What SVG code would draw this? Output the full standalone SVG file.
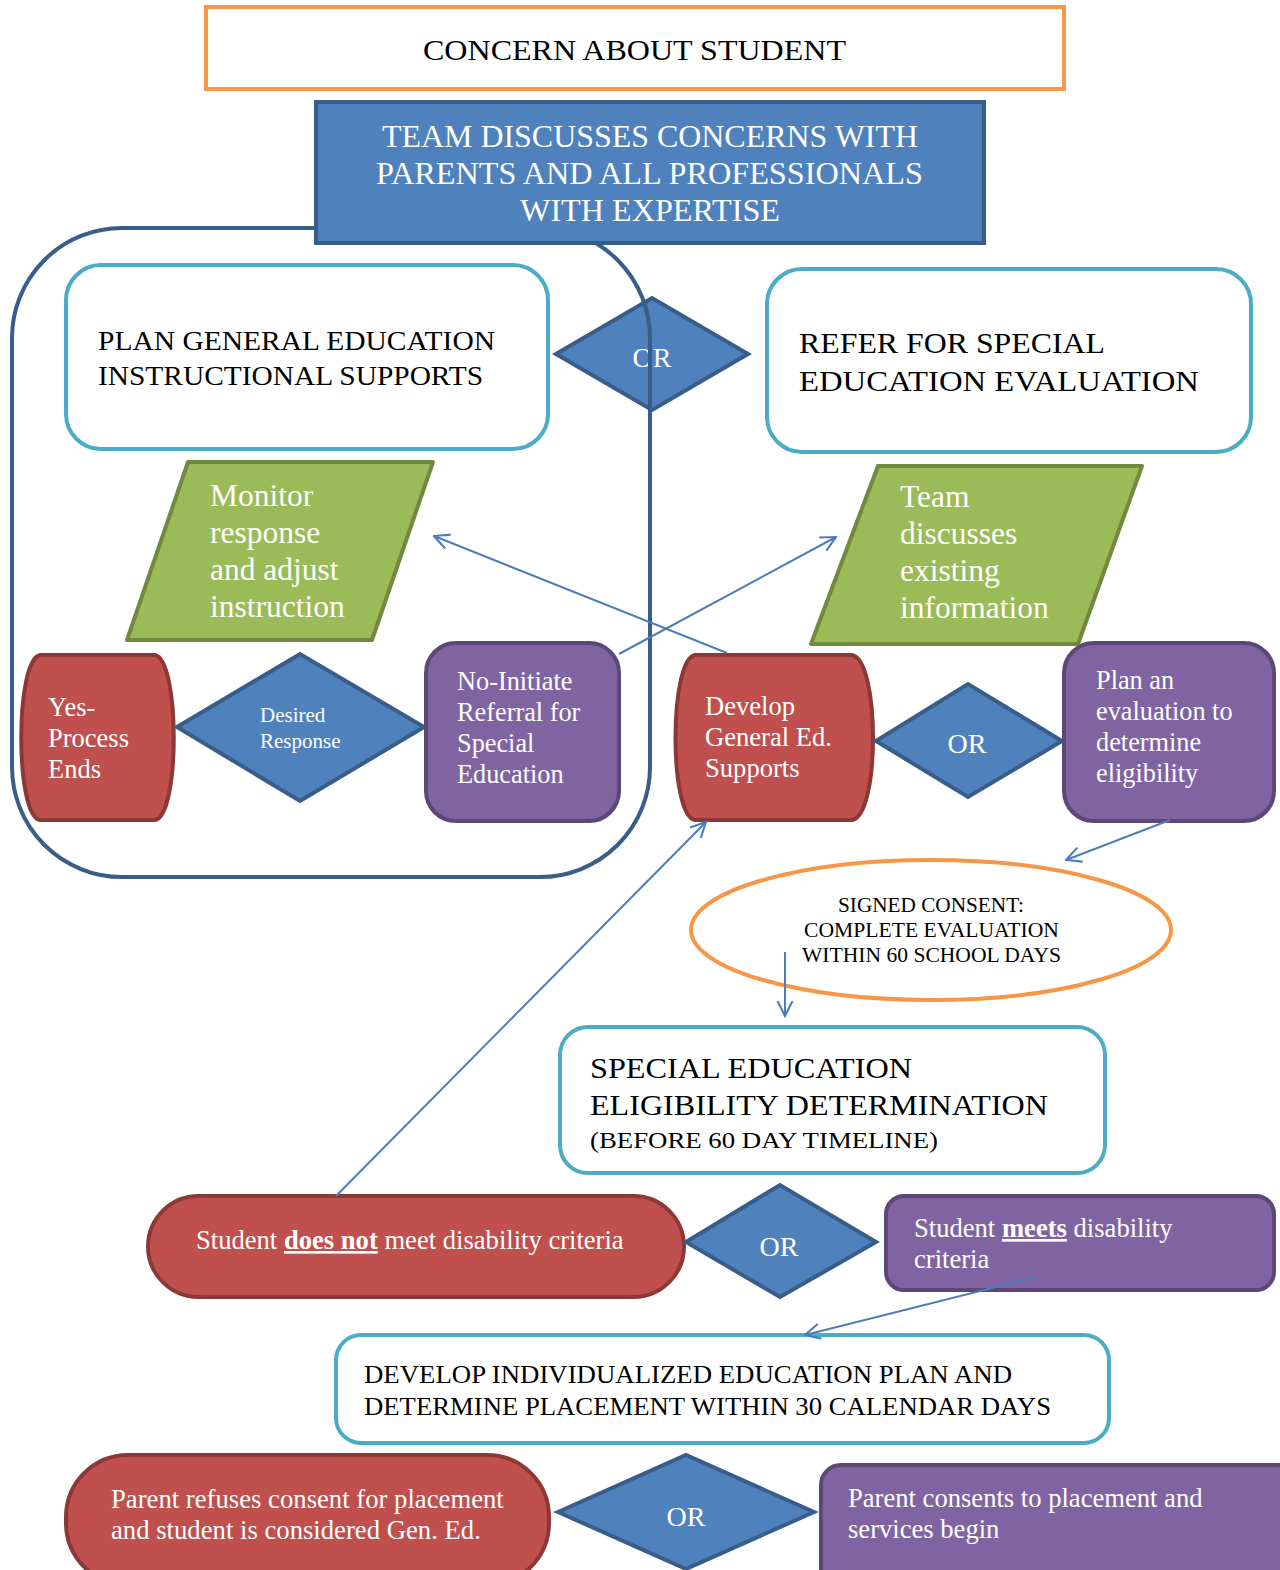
<svg xmlns="http://www.w3.org/2000/svg" width="1280" height="1570" viewBox="0 0 1280 1570">
<style>
text{font-family:"Liberation Serif","Times New Roman",serif;}
.bk{fill:#000;}
.wt{fill:#fff;}
.outl{fill:#fff;stroke:#4BACC6;stroke-width:4;}
.dia{fill:#4F81BD;stroke:#385D8A;stroke-width:4;stroke-linejoin:miter;}
.red{fill:#C0504D;stroke:#8C3836;stroke-width:4;}
.pur{fill:#8064A2;stroke:#5C4776;stroke-width:4;}
.grn{fill:#9BBB59;stroke:#71893F;stroke-width:4;stroke-linejoin:round;}
.con{fill:none;stroke:#4A7EBB;stroke-width:2;marker-end:url(#arr);}
.b{font-weight:bold;text-decoration:underline;}
</style>
<defs>
<marker id="arr" viewBox="0 0 12 12" refX="11" refY="6" markerWidth="18" markerHeight="18" markerUnits="userSpaceOnUse" orient="auto">
<path d="M1,1 L11,6 L1,11" fill="none" stroke="#4A7EBB" stroke-width="1.4"/>
</marker>
</defs>

<g id="concern">
<rect x="206" y="7" width="858" height="82" fill="#fff" stroke="#F79646" stroke-width="4"/>
<text class="bk" x="634.5" y="60" font-size="30" text-anchor="middle" textLength="423" lengthAdjust="spacingAndGlyphs">CONCERN ABOUT STUDENT</text>
</g>

<g id="or-top">
<polygon class="dia" points="556,354 652,298 748,354 652,410"/>
<text class="wt" x="652" y="367" font-size="28" text-anchor="middle">OR</text>
</g>

<g id="container">
<rect x="12" y="228" width="638" height="649" rx="110" ry="110" fill="none" stroke="#385D8A" stroke-width="4"/>
</g>

<g id="team">
<rect x="316" y="102" width="668" height="141" fill="#4F81BD" stroke="#385D8A" stroke-width="4"/>
<text class="wt" x="650" y="147" font-size="32" text-anchor="middle" textLength="536" lengthAdjust="spacingAndGlyphs">TEAM DISCUSSES CONCERNS WITH</text>
<text class="wt" x="649.5" y="184" font-size="32" text-anchor="middle" textLength="547" lengthAdjust="spacingAndGlyphs">PARENTS AND ALL PROFESSIONALS</text>
<text class="wt" x="650" y="221" font-size="32" text-anchor="middle" textLength="260" lengthAdjust="spacingAndGlyphs">WITH EXPERTISE</text>
</g>

<g id="plan-general">
<rect class="outl" x="66" y="265" width="482" height="184" rx="35"/>
<text class="bk" x="98" y="350" font-size="28" textLength="397" lengthAdjust="spacingAndGlyphs">PLAN GENERAL EDUCATION</text>
<text class="bk" x="98" y="385" font-size="28" textLength="385" lengthAdjust="spacingAndGlyphs">INSTRUCTIONAL SUPPORTS</text>
</g>

<g id="refer">
<rect class="outl" x="767" y="269" width="484" height="183" rx="35"/>
<text class="bk" x="799" y="353" font-size="30" textLength="306" lengthAdjust="spacingAndGlyphs">REFER FOR SPECIAL</text>
<text class="bk" x="799" y="391" font-size="30" textLength="400" lengthAdjust="spacingAndGlyphs">EDUCATION EVALUATION</text>
</g>

<g id="monitor">
<polygon class="grn" points="188,462 433,462 372,640 127,640"/>
<text class="wt" x="210" y="506" font-size="31.5">Monitor</text>
<text class="wt" x="210" y="543" font-size="31.5">response</text>
<text class="wt" x="210" y="580" font-size="31.5">and adjust</text>
<text class="wt" x="210" y="617" font-size="31.5">instruction</text>
</g>

<g id="team-discusses">
<polygon class="grn" points="878,466 1142,466 1078,644 811,644"/>
<text class="wt" x="900" y="507" font-size="31.5">Team</text>
<text class="wt" x="900" y="544" font-size="31.5">discusses</text>
<text class="wt" x="900" y="581" font-size="31.5">existing</text>
<text class="wt" x="900" y="618" font-size="31.5">information</text>
</g>

<g id="yes-process">
<path class="red" d="M40,655 H155 C180,660 180,816 155,820 H40 C15,816 15,660 40,655 Z"/>
<text class="wt" x="48" y="716" font-size="26.5">Yes-</text>
<text class="wt" x="48" y="747" font-size="26.5">Process</text>
<text class="wt" x="48" y="778" font-size="26.5">Ends</text>
</g>

<g id="desired">
<polygon class="dia" points="177,727 300,654 424,727 300,801"/>
<text class="wt" x="260" y="722" font-size="21">Desired</text>
<text class="wt" x="260" y="748" font-size="21">Response</text>
</g>

<g id="no-initiate">
<rect class="pur" x="426" y="643" width="193" height="178" rx="30"/>
<text class="wt" x="457" y="690" font-size="26.3">No-Initiate</text>
<text class="wt" x="457" y="721" font-size="26.3">Referral for</text>
<text class="wt" x="457" y="752" font-size="26.3">Special</text>
<text class="wt" x="457" y="783" font-size="26.3">Education</text>
</g>

<g id="develop">
<path class="red" d="M695,655 H852 C880,660 880,816 852,820 H695 C669,816 669,660 695,655 Z"/>
<text class="wt" x="705" y="715" font-size="26.6">Develop</text>
<text class="wt" x="705" y="746" font-size="26.6">General Ed.</text>
<text class="wt" x="705" y="777" font-size="26.6">Supports</text>
</g>

<g id="or-mid">
<polygon class="dia" points="876,741 968,684 1062,741 968,797"/>
<text class="wt" x="967" y="753" font-size="28" text-anchor="middle">OR</text>
</g>

<g id="plan-eval">
<rect class="pur" x="1064" y="643" width="210" height="178" rx="30"/>
<text class="wt" x="1096" y="689" font-size="26.3">Plan an</text>
<text class="wt" x="1096" y="720" font-size="26.3">evaluation to</text>
<text class="wt" x="1096" y="751" font-size="26.3">determine</text>
<text class="wt" x="1096" y="782" font-size="26.3">eligibility</text>
</g>

<g id="consent">
<ellipse cx="931" cy="930" rx="240" ry="70" fill="#fff" stroke="#F79646" stroke-width="4"/>
<text class="bk" x="931" y="912" font-size="20" text-anchor="middle" textLength="186" lengthAdjust="spacingAndGlyphs">SIGNED CONSENT:</text>
<text class="bk" x="931.5" y="937" font-size="20" text-anchor="middle" textLength="255" lengthAdjust="spacingAndGlyphs">COMPLETE EVALUATION</text>
<text class="bk" x="931.5" y="962" font-size="20" text-anchor="middle" textLength="259" lengthAdjust="spacingAndGlyphs">WITHIN 60 SCHOOL DAYS</text>
</g>

<g id="eligibility">
<rect class="outl" x="560" y="1027" width="545" height="146" rx="28"/>
<text class="bk" x="590" y="1078" font-size="30" textLength="322" lengthAdjust="spacingAndGlyphs">SPECIAL EDUCATION</text>
<text class="bk" x="590" y="1115" font-size="30" textLength="458" lengthAdjust="spacingAndGlyphs">ELIGIBILITY DETERMINATION</text>
<text class="bk" x="590" y="1148" font-size="24" textLength="348" lengthAdjust="spacingAndGlyphs">(BEFORE 60 DAY TIMELINE)</text>
</g>

<g id="does-not">
<rect class="red" x="148" y="1196" width="536" height="101" rx="50.5"/>
<text class="wt" x="196" y="1249" font-size="26.6">Student <tspan class="b">does not</tspan> meet disability criteria</text>
</g>

<g id="or-elig">
<polygon class="dia" points="686,1242 780,1185 876,1242 780,1297"/>
<text class="wt" x="779" y="1256" font-size="28" text-anchor="middle">OR</text>
</g>

<g id="meets">
<rect class="pur" x="886" y="1196" width="388" height="94" rx="18"/>
<text class="wt" x="914" y="1237" font-size="26.6">Student <tspan class="b">meets</tspan> disability</text>
<text class="wt" x="914" y="1268" font-size="26.6">criteria</text>
</g>

<g id="iep">
<rect class="outl" x="336" y="1335" width="773" height="108" rx="25"/>
<text class="bk" x="364" y="1383" font-size="26" textLength="648" lengthAdjust="spacingAndGlyphs">DEVELOP INDIVIDUALIZED EDUCATION PLAN AND</text>
<text class="bk" x="364" y="1415" font-size="26" textLength="687" lengthAdjust="spacingAndGlyphs">DETERMINE PLACEMENT WITHIN 30 CALENDAR DAYS</text>
</g>

<g id="refuses">
<rect class="red" x="66" y="1455" width="483" height="130" rx="62"/>
<text class="wt" x="111" y="1508" font-size="26.7">Parent refuses consent for placement</text>
<text class="wt" x="111" y="1539" font-size="26.7">and student is considered Gen. Ed.</text>
</g>

<g id="or-bottom">
<polygon class="dia" points="558,1512 686,1455 814,1512 686,1569"/>
<text class="wt" x="686" y="1526" font-size="28" text-anchor="middle">OR</text>
</g>

<g id="consents">
<rect class="pur" x="821" y="1465" width="480" height="125" rx="20"/>
<text class="wt" x="848" y="1507" font-size="26.6">Parent consents to placement and</text>
<text class="wt" x="848" y="1538" font-size="26.6">services begin</text>
</g>

<g id="connectors">
<line class="con" x1="727" y1="653" x2="434" y2="536"/>
<line class="con" x1="619" y1="654" x2="836" y2="537"/>
<line class="con" x1="1170" y1="820" x2="1066" y2="860"/>
<line class="con" x1="785" y1="952" x2="785" y2="1016"/>
<line class="con" x1="336" y1="1196" x2="706" y2="822"/>
<line class="con" x1="1036" y1="1277" x2="805" y2="1335"/>
</g>
</svg>
